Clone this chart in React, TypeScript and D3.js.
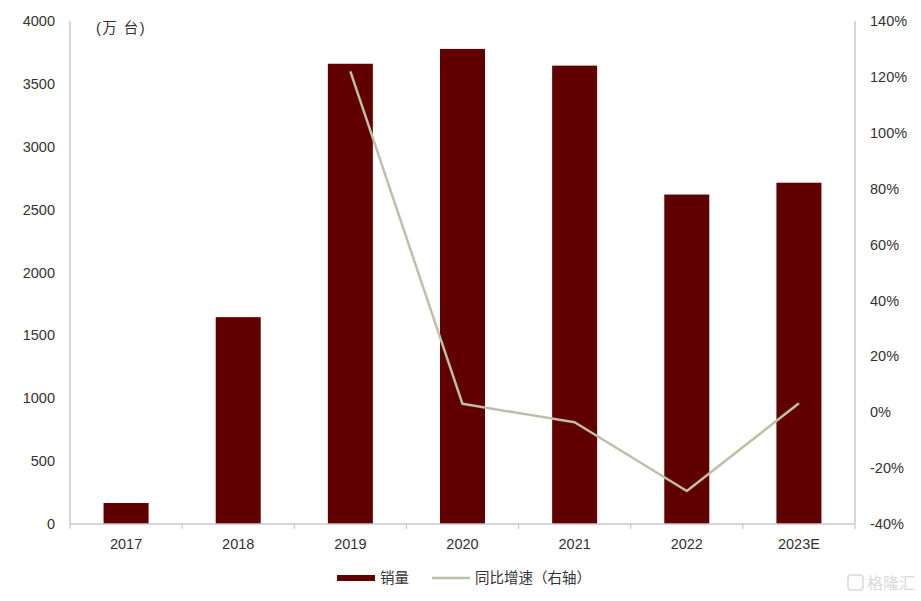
import React from "react";
import * as d3 from "d3";

const categories = ["2017", "2018", "2019", "2020", "2021", "2022", "2023E"];
const sales = [167, 1645, 3660, 3778, 3645, 2620, 2714];
const growth: (number | null)[] = [null, null, 122, 3, -3.6, -28.2, 3.2];
const leftTicks = [0, 500, 1000, 1500, 2000, 2500, 3000, 3500, 4000];
const rightTicks = [-40, -20, 0, 20, 40, 60, 80, 100, 120, 140];

const W = 921;
const H = 601;
const M = { left: 70, right: 855, top: 21, bottom: 524 };
const BAR = "#600000";
const LINE = "#bfbea9";
const AXIS = "#c8c8c8";
const TXT = "#333";
const FONT = "'Liberation Sans', Arial, 'Noto Sans CJK SC', sans-serif";
const CJK = "'Noto Sans CJK SC', sans-serif";
const FS = 14.5;

export default function App() {
  const x = d3.scaleBand<string>().domain(categories).range([M.left, M.right]).paddingInner(0).paddingOuter(0);
  const bw = 45;
  const yL = d3.scaleLinear().domain([0, 4000]).range([M.bottom, M.top]);
  const yR = d3.scaleLinear().domain([-40, 140]).range([M.bottom, M.top]);
  const pts = categories
    .map((c, i) => ({ c, v: growth[i] }))
    .filter((d) => d.v !== null) as { c: string; v: number }[];
  const line = d3
    .line<{ c: string; v: number }>()
    .x((d) => (x(d.c) as number) + x.bandwidth() / 2)
    .y((d) => yR(d.v));
  const bounds = [...categories.map((c) => x(c) as number), M.right];

  return (
    <svg width={W} height={H} style={{ position: "absolute", left: 0, top: 0, background: "#fff" }} fontFamily={FONT}>
      <rect x={0} y={0} width={W} height={H} fill="#fff" />
      {categories.map((c, i) => (
        <rect
          key={c}
          x={(x(c) as number) + x.bandwidth() / 2 - bw / 2}
          y={yL(sales[i])}
          width={bw}
          height={yL(0) - yL(sales[i])}
          fill={BAR}
        />
      ))}
      <line x1={M.left} x2={M.left} y1={M.top} y2={M.bottom} stroke={AXIS} strokeWidth={1.5} />
      <line x1={M.right} x2={M.right} y1={M.top} y2={M.bottom} stroke={AXIS} strokeWidth={1.5} />
      <line x1={M.left} x2={M.right} y1={M.bottom} y2={M.bottom} stroke={AXIS} strokeWidth={1.5} />
      {bounds.map((b, i) => (
        <line key={i} x1={b} x2={b} y1={M.bottom} y2={M.bottom + 5} stroke={AXIS} strokeWidth={1.2} />
      ))}
      <path d={line(pts) || ""} fill="none" stroke={LINE} strokeWidth={2.5} strokeLinejoin="round" />
      {leftTicks.map((t) => (
        <text key={t} x={55} y={yL(t)} dy="0.35em" textAnchor="end" fontSize={FS} fill={TXT}>
          {t}
        </text>
      ))}
      {rightTicks.map((t) => (
        <text key={t} x={870} y={yR(t)} dy="0.35em" textAnchor="start" fontSize={FS} fill={TXT}>
          {t}%
        </text>
      ))}
      {categories.map((c) => (
        <text key={c} x={(x(c) as number) + x.bandwidth() / 2} y={544} dy="0.35em" textAnchor="middle" fontSize={FS} fill={TXT}>
          {c}
        </text>
      ))}
      <text x={96} y={28} dy="0.35em" fontSize={14.5} fill={TXT} fontFamily={FONT} letterSpacing={1.5}>
        (万 台)
      </text>
      <rect x={337} y={575} width={38} height={6} fill={BAR} />
      <text x={380} y={578} dy="0.35em" fontSize={14.5} fill={TXT} fontFamily={CJK}>
        销量
      </text>
      <line x1={432} x2={470} y1={578} y2={578} stroke={LINE} strokeWidth={2.5} />
      <text x={475} y={578} dy="0.35em" fontSize={14.5} fill={TXT} fontFamily={CJK}>
        同比增速（右轴）
      </text>
      <g opacity={0.55}>
        <rect x={848} y={575} width={15} height={15} rx={3} fill="none" stroke="#bbb" strokeWidth={1.5} />
        <text x={867} y={583} dy="0.35em" fontSize={16} fill="#bbb" fontFamily={CJK}>
          格隆汇
        </text>
      </g>
    </svg>
  );
}
